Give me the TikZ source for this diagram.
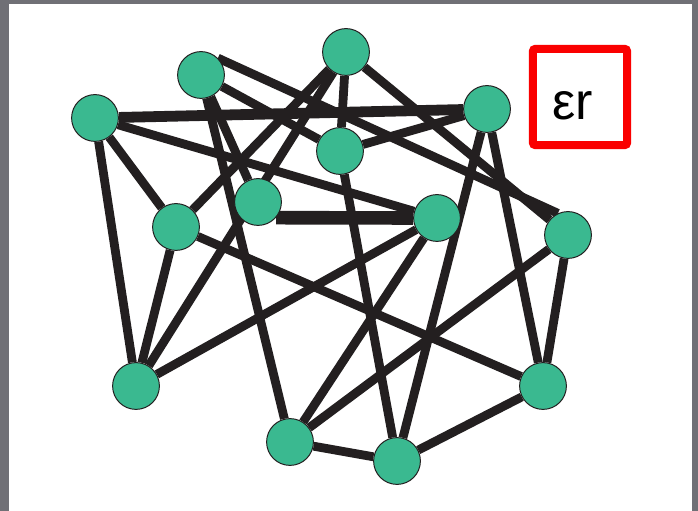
\documentclass[tikz,border=0pt]{standalone}
\usepackage{fontspec}
\setmainfont{Liberation Sans}
\usetikzlibrary{positioning, backgrounds}
\definecolor{nodegreen}{RGB}{58,185,144}
\definecolor{inkdark}{RGB}{35,31,32}
\definecolor{framegray}{RGB}{112,112,118}
\definecolor{boxred}{RGB}{250,0,0}

\begin{document}
\begin{tikzpicture}[x=0.025cm, y=-0.025cm,
    vertex/.style={circle, draw=inkdark, line width=0.7pt, fill=nodegreen,
                   minimum size=1.17cm, inner sep=0pt},
    link/.style={draw=inkdark, line width=0.22cm},
    strong/.style={link, line width=0.27cm},
    heavy/.style={link, line width=0.34cm},
    legend/.style={draw=boxred, line width=0.2cm, rounded corners=2pt,
                   minimum width=2.36cm, minimum height=2.41cm, inner sep=0pt}]
    \useasboundingbox (0,0) rectangle (698,511);

    \node[vertex] (A) at (95,118) {};
    \node[vertex] (B) at (201,75) {};
    \node[vertex] (C) at (346,52) {};
    \node[vertex] (D) at (487,109) {};
    \node[vertex] (E) at (340,151) {};
    \node[vertex] (F) at (258,202) {};
    \node[vertex] (G) at (176,227) {};
    \node[vertex] (H) at (437,218) {};
    \node[vertex] (I) at (568,235) {};
    \node[vertex] (J) at (136,386) {};
    \node[vertex] (K) at (543,386) {};
    \node[vertex] (L) at (290,442) {};
    \node[vertex] (M) at (397,461) {};

    \node[legend] (box) at (580,97) {};
    \node[inner sep=0pt, font=\fontsize{37}{40}\selectfont] (eps) at (573,106) {εr};

    \begin{scope}[on background layer]
        \fill[framegray] (0,0) rectangle (698,511);
        \fill[white] (9,4) rectangle (692,511);

        \draw[strong] (A) -- (D);
        \draw[heavy] (F.-41) -- (H.180);
        \draw[link] (A) -- (H);
        \draw[link] (A) -- (G);
        \draw[link] (A) -- (J);
        \draw[link] (B.45) -- (I.115);
        \draw[link] (B) -- (E);
        \draw[link] (B) -- (F);
        \draw[link] (B) -- (L);
        \draw[link] (C) -- (G);
        \draw[link] (C) -- (J);
        \draw[link] (C) -- (E);
        \draw[link] (C) -- (I);
        \draw[link] (D) -- (E);
        \draw[link] (D) -- (M);
        \draw[link] (D) -- (K);
        \draw[link] (E) -- (M);
        \draw[link] (G) -- (J);
        \draw[link] (G) -- (K);
        \draw[link] (H) -- (J);
        \draw[link] (H) -- (L);
        \draw[link] (I) -- (L);
        \draw[link] (I) -- (K);
        \draw[link] (K) -- (M);
        \draw[link] (L) -- (M);
    \end{scope}
\end{tikzpicture}
\end{document}
